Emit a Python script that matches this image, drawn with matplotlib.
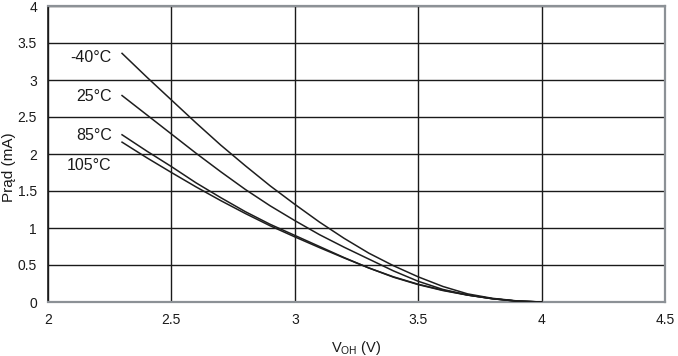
import matplotlib
matplotlib.use("Agg")
import matplotlib.pyplot as plt

plt.rcParams['font.family'] = ['Liberation Sans', 'DejaVu Sans']

# VOH (V) sample points
voh = [2.3, 2.4, 2.5, 2.6, 2.7, 2.8, 2.9, 3.0, 3.1, 3.2,
       3.3, 3.4, 3.5, 3.6, 3.7, 3.8, 3.9, 4.0]

# current (mA) per temperature
i_m40 = [3.36, 3.04, 2.73, 2.42, 2.12, 1.84, 1.57, 1.32, 1.08, 0.86,
         0.66, 0.49, 0.34, 0.21, 0.11, 0.05, 0.015, 0.0]
i_25 = [2.79, 2.53, 2.27, 2.01, 1.76, 1.52, 1.30, 1.10, 0.91, 0.74,
        0.58, 0.42, 0.28, 0.17, 0.095, 0.045, 0.012, 0.0]
i_85 = [2.26, 2.04, 1.83, 1.61, 1.41, 1.22, 1.05, 0.90, 0.75, 0.60,
        0.46, 0.34, 0.24, 0.16, 0.095, 0.045, 0.012, 0.0]
i_105 = [2.16, 1.95, 1.75, 1.555, 1.37, 1.195, 1.03, 0.88, 0.735, 0.595,
         0.46, 0.335, 0.235, 0.155, 0.093, 0.044, 0.012, 0.0]

labels = ["-40°C", "25°C", "85°C", "105°C"]
label_y = [3.31, 2.775, 2.25, 1.84]

xticks = [2, 2.5, 3, 3.5, 4, 4.5]
xticklabels = ["2", "2.5", "3", "3.5", "4", "4.5"]
yticks = [0, 0.5, 1, 1.5, 2, 2.5, 3, 3.5, 4]
yticklabels = ["0", "0.5", "1", "1.5", "2", "2.5", "3", "3.5", "4"]

fig = plt.figure(figsize=(6.78, 3.56), dpi=100)
ax = fig.add_axes([48 / 678, 1 - 302 / 356, 617 / 678, 296 / 356])

for series in (i_m40, i_25, i_85, i_105):
    ax.plot(voh, series, color="#1e1e1e", lw=1.1, zorder=3)

for lab, y in zip(labels, label_y):
    ax.text(2.2585, y, lab, ha="right", va="center", fontsize=11.5, color="#1a1a1a")

ax.set_xlim(2, 4.5)
ax.set_ylim(0, 4)
ax.set_xticks(xticks)
ax.set_xticklabels(xticklabels)
ax.set_yticks(yticks)
ax.set_yticklabels(yticklabels)
ax.tick_params(length=0, labelsize=10, colors="#1a1a1a", pad=8)
ax.grid(True, color="#1a1a1a", lw=1.0)
ax.set_axisbelow(True)

for side in ("top", "right", "bottom"):
    ax.spines[side].set_color("#8c9196")
    ax.spines[side].set_linewidth(1.6)
ax.spines["left"].set_color("#1a1a1a")
ax.spines["left"].set_linewidth(1.2)

# axis titles placed in figure coords so they stay inside the canvas
fig.text(356 / 678, 1 - 348 / 356, r"V$_{\mathregular{OH}}$ (V)", fontsize=10.5,
         color="#1a1a1a", ha="center", va="center")
fig.text(9 / 678, 1 - 167 / 356, "Prąd (mA)", fontsize=11, rotation=90,
         color="#1a1a1a", ha="center", va="center")

fig.savefig("out.png", dpi=100)
